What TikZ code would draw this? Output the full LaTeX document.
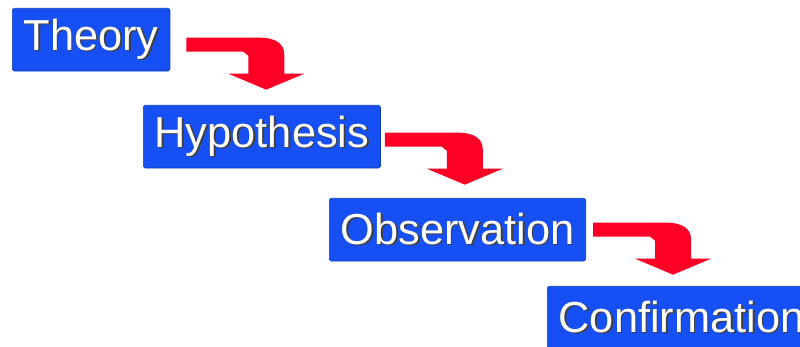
\documentclass[tikz,border=0pt]{standalone}
\usepackage{fontspec}
\setmainfont{Liberation Sans}
\usetikzlibrary{calc, positioning}

\definecolor{boxblue}{RGB}{22,80,245}
\definecolor{arrowred}{RGB}{252,0,38}

% white letters with a dark shadow to the lower right
\newcommand{\embossed}[1]{\makebox[0pt][l]{\hspace{1.4pt}\raisebox{-1.4pt}{\color{black!75}#1}}{\color{white}#1}}

\begin{document}
\begin{tikzpicture}[x=0.03cm, y=-0.03cm,
  stage/.style={fill=boxblue, draw=boxblue!75!black, line width=0.6pt,
    rounded corners=1.5pt, anchor=north west, minimum height=1.88cm,
    inner xsep=0.34cm, inner ysep=0pt,
    font=\fontsize{37}{40}\selectfont},
  bentarrow/.pic={
    \fill[arrowred] (0,0) -- (73,0) .. controls (91,0) and (98,7) .. (98,17)
      -- (98,36) -- (118,36) -- (80,52) -- (42,36) -- (62,36)
      -- (62,18) -- (57,14) -- (0,14) -- cycle;
  }]
\useasboundingbox (0,0) rectangle (800,347);

\node[stage] (theory) at (12,8) {\embossed{Theory}};
\node[stage] (hypo) at (143,105) {\embossed{Hypothesis}};
\node[stage] (obs) at (329,198) {\embossed{Observation}};
\node[stage] (conf) at (547,286) {\embossed{Confirmation}};

\pic at ($(theory.east)+(16,-2)$) {bentarrow};
\pic at ($(hypo.east)+(4,-4)$) {bentarrow};
\pic at ($(obs.east)+(7,-7)$) {bentarrow};
\end{tikzpicture}
\end{document}
